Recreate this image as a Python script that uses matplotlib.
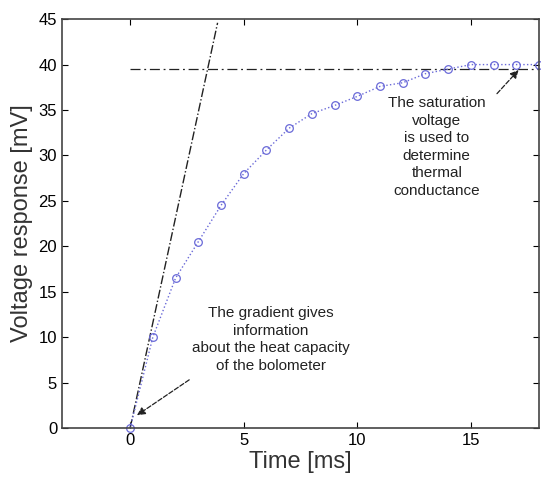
import matplotlib
matplotlib.use('Agg')
import matplotlib.pyplot as plt

# measured voltage response
time_ms = list(range(0, 19))
voltage_mv = [0, 10, 16.5, 20.5, 24.5, 28, 30.6, 33, 34.6, 35.5, 36.5,
              37.6, 38, 39, 39.5, 40, 40, 40, 40]

# gradient and saturation guide lines
grad_x = [0, 3.85]
grad_y = [0, 44.6]
sat_x = [0, 18]
sat_y = [39.5, 39.5]

plt.rcParams['font.family'] = ['Liberation Sans', 'DejaVu Sans']

fig = plt.figure(figsize=(5.41, 4.79), dpi=100)
ax = fig.add_axes([0.1146, 0.1065, 0.8817, 0.8535])

ax.plot(grad_x, grad_y, color='#222222', linestyle='-.', linewidth=1.0)
ax.plot(sat_x, sat_y, color='#222222', linestyle=(0, (8, 3, 1.5, 3)), linewidth=0.9)
ax.plot(time_ms, voltage_mv, color='#6a6ad8', linestyle=':', linewidth=1.0,
        marker='o', markersize=5.5, markerfacecolor='none',
        markeredgecolor='#6a6ad8', markeredgewidth=0.9, clip_on=False)

# annotation texts
ax.text(13.5, 36.5, "The saturation\nvoltage\nis used to\ndetermine\nthermal\nconductance",
        ha='center', va='top', fontsize=11, color='#222222', linespacing=1.32)
ax.text(6.2, 13.4, "The gradient gives\ninformation\nabout the heat capacity\nof the bolometer",
        ha='center', va='top', fontsize=11, color='#222222', linespacing=1.32)

# arrows
arrow = dict(arrowstyle='-|>', linestyle='--', color='#222222', lw=0.9,
             shrinkA=0, shrinkB=0, mutation_scale=12)
ax.annotate("", xy=(17.1, 39.4), xytext=(16.15, 36.8), arrowprops=arrow)
ax.annotate("", xy=(0.3, 1.4), xytext=(2.6, 5.3), arrowprops=arrow)

ax.set_xlim(-3, 18)
ax.set_ylim(0, 45)
ax.set_xticks([0, 5, 10, 15])
ax.set_yticks(range(0, 46, 5))
ax.tick_params(direction='in', top=True, right=True, labelsize=12, length=4)
for s in ax.spines.values():
    s.set_linewidth(1.2)
    s.set_color('#444444')

ax.set_xlabel("Time [ms]", fontsize=17, color='#333333', labelpad=2)
ax.set_ylabel("Voltage response [mV]", fontsize=17, color='#333333', labelpad=4)

plt.savefig('out.png', dpi=100)
